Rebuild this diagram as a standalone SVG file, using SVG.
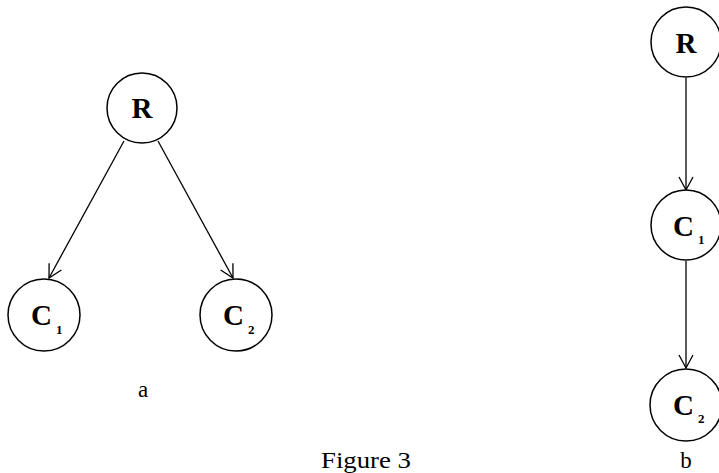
<svg xmlns="http://www.w3.org/2000/svg" width="719" height="473" viewBox="0 0 719 473">
<defs>
<style>
.node circle{fill:#fff;stroke:#000;stroke-width:1.5}
.lbl{font-family:"Liberation Serif","Times New Roman",serif;font-weight:bold;fill:#000}
.main{font-size:29px}
.sub{font-size:13px}
.cap{font-family:"Liberation Serif","Times New Roman",serif;font-size:23px;fill:#000}
.edge{stroke:#000;stroke-width:1.3;fill:none;marker-end:url(#arr)}
</style>
<marker id="arr" markerUnits="userSpaceOnUse" markerWidth="18" markerHeight="18" refX="14" refY="8" orient="auto">
<path d="M1,1 L14,8 L1,15" fill="none" stroke="#000" stroke-width="1.3"/>
</marker>
</defs>
<rect width="719" height="473" fill="#fff"/>
<g id="connectors">
<line class="edge" x1="124" y1="141" x2="49" y2="278"/>
<line class="edge" x1="158" y1="141" x2="233" y2="278"/>
<line class="edge" x1="686" y1="78" x2="686" y2="190"/>
<line class="edge" x1="686" y1="261" x2="686" y2="368"/>
</g>
<g id="a-R" class="node"><circle cx="142" cy="108" r="35"/><text class="lbl main" x="142" y="118" text-anchor="middle">R</text></g>
<g id="a-C1" class="node"><circle cx="44" cy="315" r="36"/><text class="lbl main" x="31" y="325">C</text><text class="lbl sub" x="56" y="334">1</text></g>
<g id="a-C2" class="node"><circle cx="236" cy="315" r="36"/><text class="lbl main" x="223" y="325">C</text><text class="lbl sub" x="248" y="334">2</text></g>
<g id="b-R" class="node"><circle cx="686" cy="42" r="35"/><text class="lbl main" x="686" y="53" text-anchor="middle">R</text></g>
<g id="b-C1" class="node"><circle cx="686" cy="225" r="35"/><text class="lbl main" x="673" y="236">C</text><text class="lbl sub" x="698" y="244">1</text></g>
<g id="b-C2" class="node"><circle cx="686" cy="405" r="36"/><text class="lbl main" x="673" y="415">C</text><text class="lbl sub" x="698" y="423">2</text></g>
<text class="cap" x="143" y="397" text-anchor="middle">a</text>
<text class="cap" x="686" y="468" text-anchor="middle">b</text>
<text class="cap" x="366" y="468" text-anchor="middle" textLength="90" lengthAdjust="spacingAndGlyphs">Figure 3</text>
</svg>
